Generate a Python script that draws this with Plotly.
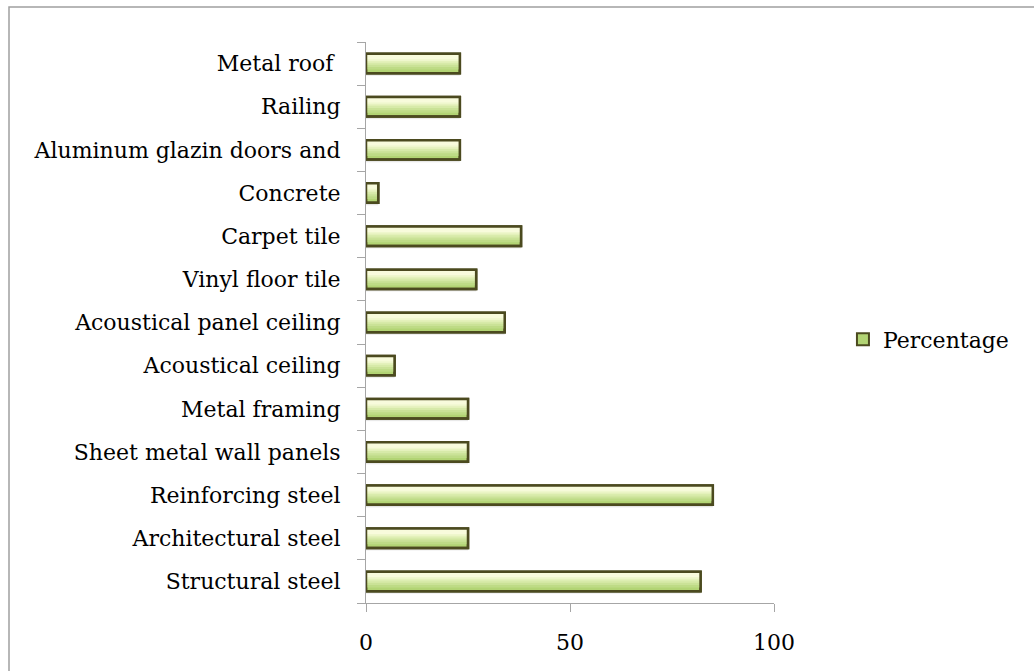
import plotly.graph_objects as go

# Materials, listed from the bottom of the chart to the top
materials = [
    "Structural steel",
    "Architectural steel",
    "Reinforcing steel",
    "Sheet metal wall panels",
    "Metal framing",
    "Acoustical ceiling",
    "Acoustical panel ceiling",
    "Vinyl floor tile",
    "Carpet tile",
    "Concrete",
    "Aluminum glazin doors and",
    "Railing",
    "Metal roof ",
]
percentage = [82, 25, 85, 25, 25, 7, 34, 27, 38, 3, 23, 23, 23]

x_ticks = [0, 50, 100]

FONT = "DejaVu Serif"
BAR_W = 0.45
EDGE = "#4b4a1f"

fig = go.Figure()

# soft drop shadow under each bar
for off, alpha in [(-0.29, 0.05), (-0.27, 0.07), (-0.25, 0.08)]:
    fig.add_trace(go.Bar(
        y=materials, x=percentage, orientation="h",
        width=BAR_W, offset=off,
        marker=dict(color=f"rgba(0,0,0,{alpha})", line=dict(width=0)),
        showlegend=False, hoverinfo="skip",
    ))

# main green body (also provides the legend entry)
fig.add_trace(go.Bar(
    y=materials, x=percentage, orientation="h",
    width=BAR_W, offset=-BAR_W / 2,
    name="Percentage",
    marker=dict(color="#b2d474", line=dict(color=EDGE, width=2.5)),
))

# progressively lighter bands toward the top edge: a glossy gradient
bands = [
    (-0.14, 0.36, "#bedb86"),
    (-0.08, 0.30, "#cae297"),
    (-0.03, 0.25, "#d7eaa9"),
    (0.02, 0.20, "#e4f1bb"),
    (0.06, 0.16, "#eff7cd"),
    (0.10, 0.12, "#f8fbdc"),
]
for off, w, col in bands:
    fig.add_trace(go.Bar(
        y=materials, x=percentage, orientation="h",
        width=w, offset=off,
        marker=dict(color=col, line=dict(width=0)),
        showlegend=False, hoverinfo="skip",
    ))

# crisp outline drawn last
fig.add_trace(go.Bar(
    y=materials, x=percentage, orientation="h",
    width=BAR_W, offset=-BAR_W / 2,
    marker=dict(color="rgba(0,0,0,0)", line=dict(color=EDGE, width=2.5)),
    showlegend=False, hoverinfo="skip",
))

fig.update_layout(
    width=1034, height=671,
    margin=dict(l=366, r=260, t=42, b=68),
    paper_bgcolor="white", plot_bgcolor="white",
    barmode="overlay",
    font=dict(family=FONT, size=22, color="black"),
    showlegend=True,
    legend=dict(
        x=1.169, y=0.47, xanchor="left", yanchor="middle",
        font=dict(family=FONT, size=22, color="black"),
        bgcolor="rgba(0,0,0,0)", itemsizing="constant",
    ),
    xaxis=dict(
        range=[0, 100], tickvals=x_ticks, ticktext=[str(v) for v in x_ticks],
        showgrid=False, zeroline=False,
        showline=True, linecolor="#a6a6a6", linewidth=1.2,
        ticks="outside", ticklen=8, tickcolor="#a6a6a6", tickwidth=1.2,
        ticklabelstandoff=11,
        tickfont=dict(family=FONT, size=22, color="black"),
        fixedrange=True,
    ),
    yaxis=dict(
        type="category", categoryorder="array", categoryarray=materials,
        range=[-0.5, len(materials) - 0.5],
        showgrid=False, zeroline=False,
        showline=True, linecolor="#a6a6a6", linewidth=1.2,
        ticks="outside", ticklen=8, tickcolor="#a6a6a6", tickwidth=1.2,
        tickson="boundaries", ticklabelstandoff=20,
        tickfont=dict(family=FONT, size=22, color="black"),
        fixedrange=True,
    ),
    shapes=[dict(
        type="rect", xref="paper", yref="paper",
        x0=(9 - 366) / 408, x1=(1040 - 366) / 408,
        y0=(603 - 680) / 561, y1=(603 - 7) / 561,
        line=dict(color="#a0a0a0", width=1.5), fillcolor="rgba(0,0,0,0)",
        layer="below",
    )],
)

fig.write_html("out.html")
